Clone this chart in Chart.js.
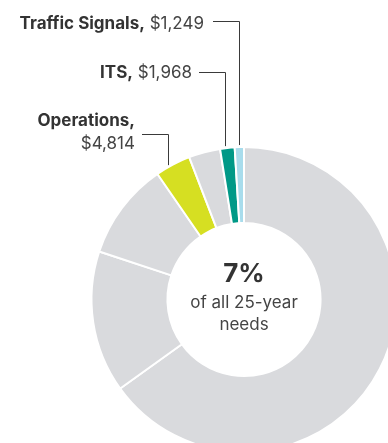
<!DOCTYPE html>
<html>
<head>
<meta charset="utf-8">
<title>25-year needs</title>
<script src="https://cdn.jsdelivr.net/npm/chart.js@4.4.0/dist/chart.umd.min.js"></script>
<style>
  html, body { margin: 0; padding: 0; background: #fff; overflow: hidden; }
  #wrap { position: relative; width: 388px; height: 443px; }
</style>
</head>
<body>
<div id="wrap"><canvas id="needsChart" width="388" height="443"></canvas></div>
<script>
// 25-year needs, in millions of dollars
const categories = ['Other needs 1', 'Other needs 2', 'Other needs 3', 'Operations', 'Other needs 4', 'ITS', 'Traffic Signals'];
const needs = [83400, 19250, 13200, 4814, 4280, 1968, 1249];
const sliceColors = ['#d9dadd', '#d9dadd', '#d9dadd', '#d6df22', '#d9dadd', '#009987', '#a8dcec'];

// callouts: which slice, text lines and where the leader line turns down
const callouts = [
  { index: 6, lines: [['Traffic Signals,', ' $1,249']], right: 204, baseline: 29, lineY: 21.5, lineStart: 213, lineX: 239.5 },
  { index: 5, lines: [['ITS,', ' $1,968']], right: 192, baseline: 78, lineY: 72.5, lineStart: 199, lineX: 225.5 },
  { index: 3, lines: [['Operations,', ''], ['', '$4,814']], right: 135, baseline: 126, lineY: 134.5, lineStart: 142, lineX: 168.5 }
];

const centerTitle = '7%';
const centerLines = ['of all 25-year', 'needs'];

const FONT = 'Inter, "Open Sans", sans-serif';
const LABEL_SIZE = 17;

const calloutPlugin = {
  id: 'callouts',
  afterDraw(chart) {
    const ctx = chart.ctx;
    const arcs = chart.getDatasetMeta(0).data;
    const cx = arcs[0].x;
    const cy = arcs[0].y;
    const outer = arcs[0].outerRadius - 1;

    ctx.save();
    ctx.textBaseline = 'alphabetic';
    ctx.textAlign = 'left';

    callouts.forEach(function(c) {
      // bold name then regular value, right aligned
      c.lines.forEach(function(parts, i) {
        const y = c.baseline + i * 23;
        ctx.font = '400 ' + LABEL_SIZE + 'px ' + FONT;
        const w2 = ctx.measureText(parts[1]).width;
        ctx.font = '700 ' + LABEL_SIZE + 'px ' + FONT;
        const w1 = ctx.measureText(parts[0]).width;
        const x = c.right - w1 - w2;
        ctx.fillStyle = '#333';
        ctx.fillText(parts[0], x, y);
        ctx.font = '400 ' + LABEL_SIZE + 'px ' + FONT;
        ctx.fillStyle = '#444';
        ctx.fillText(parts[1], x + w1, y);
      });

      // leader line down to the slice edge
      const dx = c.lineX - cx;
      const endY = cy - Math.sqrt(outer * outer - dx * dx) - 3;
      ctx.strokeStyle = '#3a3a3a';
      ctx.lineWidth = 1;
      ctx.beginPath();
      ctx.moveTo(c.lineStart, c.lineY);
      ctx.lineTo(c.lineX, c.lineY);
      ctx.lineTo(c.lineX, endY);
      ctx.stroke();
    });

    // text in the hole
    ctx.textAlign = 'center';
    ctx.fillStyle = '#333';
    ctx.font = '700 26px ' + FONT;
    ctx.fillText(centerTitle, cx, cy - 18);
    ctx.fillStyle = '#444';
    ctx.font = '400 ' + LABEL_SIZE + 'px ' + FONT;
    ctx.fillText(centerLines[0], cx, cy + 8.5);
    ctx.fillText(centerLines[1], cx, cy + 30.5);
    ctx.restore();
  }
};

const ctx = document.getElementById('needsChart').getContext('2d');
const needsChart = new Chart(ctx, {
  type: 'doughnut',
  data: {
    labels: categories,
    datasets: [{
      data: needs,
      backgroundColor: sliceColors,
      borderColor: '#ffffff',
      borderWidth: 2,
      hoverOffset: 0,
      clip: false
    }]
  },
  options: {
    responsive: false,
    animation: false,
    devicePixelRatio: 1,
    radius: 152.5,
    cutout: '50.2%',
    layout: { padding: { left: 100, top: 156, right: 0, bottom: 0 } },
    plugins: {
      legend: { display: false },
      tooltip: { enabled: false }
    }
  },
  plugins: [calloutPlugin]
});
</script>
</body>
</html>
